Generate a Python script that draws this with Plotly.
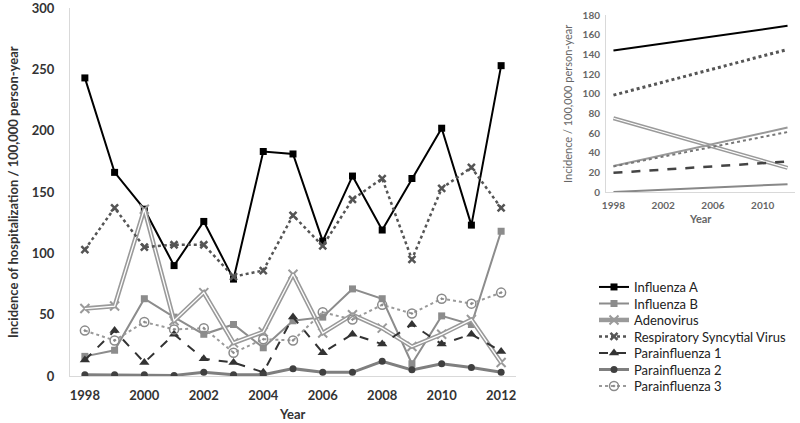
import plotly.graph_objects as go

years = list(range(1998, 2013))
influenza_a = [243, 166, 136, 90, 126, 79, 183, 181, 110, 163, 119, 161, 202, 123, 253]
influenza_b = [16, 21, 63, 48, 34, 42, 23, 45, 48, 71, 63, 10, 49, 42, 118]
adenovirus = [55, 57, 136, 45, 68, 27, 36, 83, 35, 50, 39, 24, 34, 46, 11]
rsv = [103, 137, 105, 107, 107, 81, 86, 131, 106, 144, 161, 95, 153, 170, 137]
parainfluenza_1 = [13, 37, 11, 34, 14, 11, 3, 48, 19, 34, 26, 42, 26, 34, 20]
parainfluenza_2 = [1, 1, 1, 0.5, 3, 1, 1, 6, 3, 3, 12, 5, 10, 7, 3]
parainfluenza_3 = [37, 29, 44, 38, 39, 19, 30, 29, 52, 46, 58, 51, 63, 59, 68]

trend_years = [1998, 2012]
trend_influenza_a = [144, 169]
trend_influenza_b = [26.5, 65.5]
trend_adenovirus = [75, 24.5]
trend_rsv = [98.5, 145]
trend_parainfluenza_1 = [19.5, 31]
trend_parainfluenza_2 = [0, 8]
trend_parainfluenza_3 = [26, 61]

main_xticks = [1998, 2000, 2002, 2004, 2006, 2008, 2010, 2012]
inset_xticks = [1998, 2002, 2006, 2010]

W, H = 800, 423
FONT = "Lato"


def fx(p):
    return p / W


def fy(p):
    return 1 - p / H


fig = go.Figure()
legend_ids = ["legend", "legend2", "legend3", "legend4", "legend5", "legend6", "legend7"]
counter = {"i": 0}


def add_main(y, name, color, width, dash, symbol, msize, mcolor=None, mline=0):
    lid = legend_ids[counter["i"]]
    counter["i"] += 1
    fig.add_trace(go.Scatter(
        x=years, y=y, name=name, mode="lines+markers", legend=lid,
        line=dict(color=color, width=width, dash=dash),
        marker=dict(symbol=symbol, size=msize, color=mcolor or color,
                    line=dict(width=mline, color=mcolor or color)),
        xaxis="x", yaxis="y"))


add_main(influenza_a, "Influenza A", "#000000", 2, "solid", "square", 7)
add_main(influenza_b, "Influenza B", "#8c8c8c", 2, "solid", "square", 7)
add_main(adenovirus, "Adenovirus", "#9a9a9a", 4.5, "solid", "x-thin", 9, "#9a9a9a", 2)
fig.add_trace(go.Scatter(x=years, y=adenovirus, mode="lines", showlegend=False,
                         line=dict(color="#ffffff", width=1.3), xaxis="x", yaxis="y", hoverinfo="skip"))
add_main(rsv, "Respiratory Syncytial Virus", "#555555", 2.5, "dot", "x-thin", 7, "#555555", 2.5)
add_main(parainfluenza_1, "Parainfluenza 1", "#333333", 2, "dash", "triangle-up", 9)
add_main(parainfluenza_2, "Parainfluenza 2", "#7f7f7f", 3, "solid", "circle", 7, "#404040")
add_main(parainfluenza_3, "Parainfluenza 3", "#9a9a9a", 2, "dot", "circle-open-dot", 9, "#8a8a8a", 1.5)


def add_inset(y, color, width, dash):
    fig.add_trace(go.Scatter(x=trend_years, y=y, mode="lines", showlegend=False,
                             line=dict(color=color, width=width, dash=dash),
                             xaxis="x2", yaxis="y2"))


add_inset(trend_influenza_a, "#000000", 2, "solid")
add_inset(trend_rsv, "#555555", 3, "dot")
add_inset(trend_adenovirus, "#9a9a9a", 4, "solid")
fig.add_trace(go.Scatter(x=trend_years, y=trend_adenovirus, mode="lines", showlegend=False,
                         line=dict(color="#ffffff", width=1.2), xaxis="x2", yaxis="y2"))
add_inset(trend_influenza_b, "#999999", 2, "solid")
add_inset(trend_parainfluenza_3, "#777777", 2, "dot")
add_inset(trend_parainfluenza_1, "#444444", 2.5, "dash")
add_inset(trend_parainfluenza_2, "#888888", 2, "solid")

tickfont_main = dict(family=FONT, size=13, color="#333333", weight="bold")
tickfont_inset = dict(family=FONT, size=10, color="#666666", weight="bold")

legend_layout = {}
for i, lid in enumerate(legend_ids):
    legend_layout[lid] = dict(
        x=fx(594), y=fy(287 + 16.5 * i), xanchor="left", yanchor="middle",
        font=dict(family=FONT, size=13, color="#222222"),
        itemwidth=30, bgcolor="rgba(0,0,0,0)", borderwidth=0)

axis_common = dict(automargin=False, showgrid=False, zeroline=False, showline=True,
                   linecolor="#d9d9d9", linewidth=1, ticks="outside", tickcolor="rgba(0,0,0,0)",
                   ticklabeloverflow="allow")

fig.update_layout(
    width=W, height=H,
    margin=dict(l=0, r=0, t=0, b=0, autoexpand=False),
    paper_bgcolor="white", plot_bgcolor="white",
    font=dict(family=FONT),
    hovermode=False,
    xaxis=dict(domain=[fx(70), fx(516)], range=[1997.5, 2012.5], tickvals=main_xticks,
               ticklen=7, tickfont=tickfont_main, **axis_common),
    yaxis=dict(domain=[fy(376), fy(8)], range=[0, 300], dtick=50,
               ticklen=12, tickfont=tickfont_main, **axis_common),
    xaxis2=dict(domain=[fx(606), fx(795)], range=[1997.4, 2012.6], tickvals=inset_xticks,
                anchor="y2", ticklen=4, tickfont=tickfont_inset, **axis_common),
    yaxis2=dict(domain=[fy(192), fy(15)], range=[0, 180], dtick=20, anchor="x2",
                ticklen=3, tickfont=tickfont_inset, **axis_common),
    annotations=[
        dict(text="Incidence of hospitalization / 100,000 person-year", xref="paper", yref="paper",
             x=fx(13), y=fy(192), xanchor="center", yanchor="middle", textangle=-90, showarrow=False,
             font=dict(family=FONT, size=13, color="#333333", weight="bold")),
        dict(text="Year", xref="paper", yref="paper", x=fx(292), y=fy(414),
             xanchor="center", yanchor="middle", showarrow=False,
             font=dict(family=FONT, size=13, color="#333333", weight="bold")),
        dict(text="Incidence / 100,000 person-year", xref="paper", yref="paper",
             x=fx(567), y=fy(104), xanchor="center", yanchor="middle", textangle=-90, showarrow=False,
             font=dict(family=FONT, size=11, color="#666666")),
        dict(text="Year", xref="paper", yref="paper", x=fx(700), y=fy(218),
             xanchor="center", yanchor="middle", showarrow=False,
             font=dict(family=FONT, size=11, color="#666666", weight="bold")),
    ],
    **legend_layout,
)

fig.write_html("out.html", config={"displayModeBar": False},
               post_script="document.body.style.margin='0px';")
